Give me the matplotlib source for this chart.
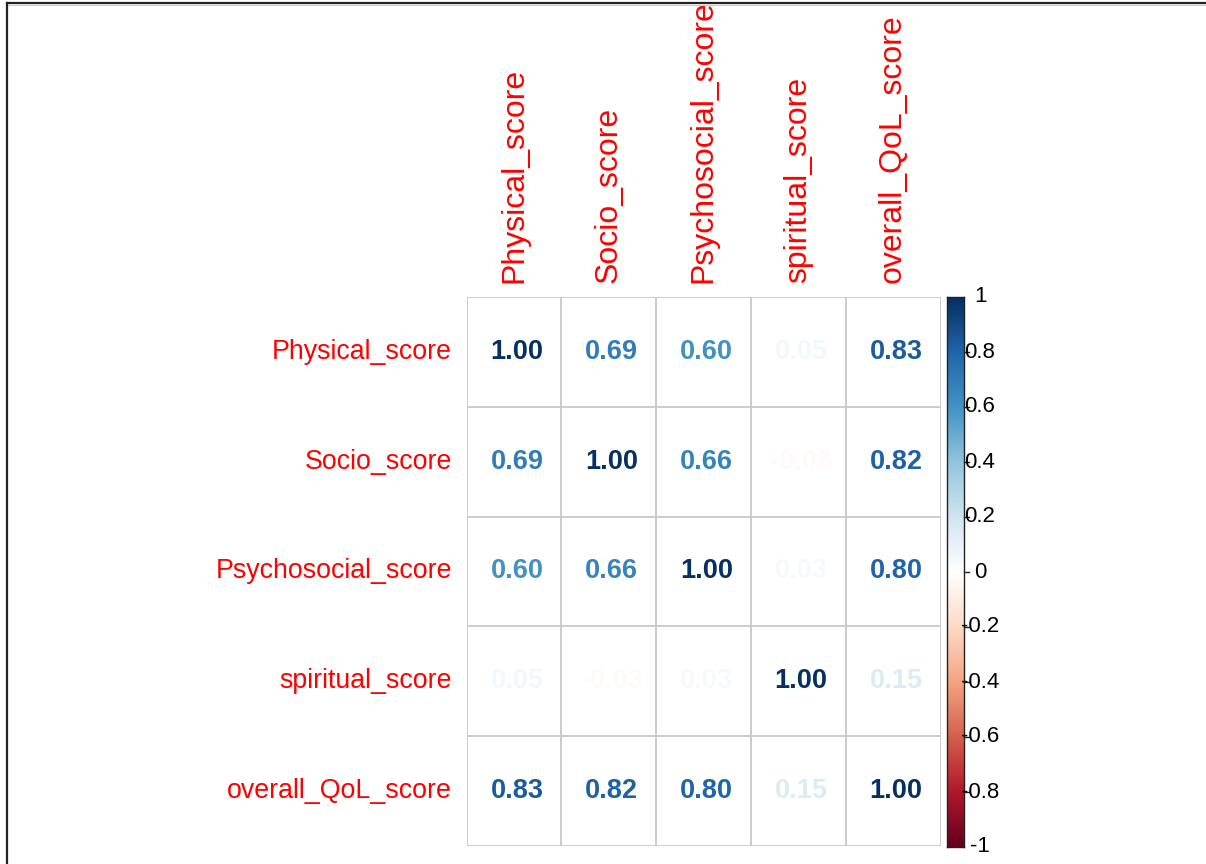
import numpy as np
import matplotlib
matplotlib.use("Agg")
import matplotlib.pyplot as plt
from matplotlib.colors import LinearSegmentedColormap, Normalize
from matplotlib.lines import Line2D

# Correlation matrix of quality-of-life sub-scores
variables = ["Physical_score", "Socio_score", "Psychosocial_score",
             "spiritual_score", "overall_QoL_score"]
row_physical = [1.00, 0.69, 0.60, 0.05, 0.83]
row_socio = [0.69, 1.00, 0.66, -0.03, 0.82]
row_psycho = [0.60, 0.66, 1.00, 0.03, 0.80]
row_spiritual = [0.05, -0.03, 0.03, 1.00, 0.15]
row_overall = [0.83, 0.82, 0.80, 0.15, 1.00]
cbar_ticks = [1, 0.8, 0.6, 0.4, 0.2, 0, -0.2, -0.4, -0.6, -0.8, -1]
cbar_labels = ["1", "0.8", "0.6", "0.4", "0.2", "0", "-0.2", "-0.4", "-0.6", "-0.8", "-1"]

corr = np.array([row_physical, row_socio, row_psycho, row_spiritual, row_overall])
n = len(variables)

# diverging red-blue palette
rdbu = ["#67001F", "#B2182B", "#D6604D", "#F4A582", "#FDDBC7", "#FFFFFF",
        "#D1E5F0", "#92C5DE", "#4393C3", "#2166AC", "#053061"]
cmap = LinearSegmentedColormap.from_list("rdbu2", rdbu, N=200)
norm = Normalize(-1, 1)

W, H = 1206, 864
fig = plt.figure(figsize=(W / 100, H / 100), dpi=100)
fig.patch.set_facecolor("white")


def frac(x0, y0, x1, y1):
    return [x0 / W, 1 - y1 / H, (x1 - x0) / W, (y1 - y0) / H]


# main grid
ax = fig.add_axes(frac(466.7, 297, 940.5, 846))
ax.set_xlim(0, n)
ax.set_ylim(n, 0)
ax.set_axis_off()
grid_kw = dict(color="#c8c8c8", lw=1.3, zorder=2)
for k in range(n + 1):
    ax.axhline(k, **grid_kw)
    ax.axvline(k, **grid_kw)

for i in range(n):
    for j in range(n):
        v = corr[i, j]
        ax.text(j + 0.53, i + 0.5, f"{v:.2f}", ha="center", va="center",
                color=cmap(norm(v)), fontsize=19.5, fontweight="bold",
                family=["Liberation Sans"], zorder=3)

# variable names
for k, name in enumerate(variables):
    ax.text(-0.155, k + 0.5, name, ha="right", va="center", color="red",
            fontsize=19.3, family=["Liberation Sans"])
    ax.annotate(name, xy=(k + 0.5, 1), xycoords=("data", "axes fraction"),
                xytext=(0, 14), textcoords="offset pixels",
                rotation=90, ha="center", va="bottom", color="red",
                fontsize=23, family=["Liberation Sans"])

# colour legend
cax = fig.add_axes(frac(947, 297, 964, 847))
grad = np.linspace(1, -1, 400).reshape(-1, 1)
cax.imshow(grad, cmap=cmap, norm=norm, aspect="auto", extent=[0, 1, -1, 1])
cax.set_xlim(0, 1)
cax.set_ylim(-1, 1)
cax.set_xticks([])
cax.set_yticks([])
for s in cax.spines.values():
    s.set_color("#222222")
    s.set_linewidth(1.0)
for t, lab in zip(cbar_ticks, cbar_labels):
    if abs(t) < 1:
        cax.plot([1, 1.3], [t, t], color="#222222", lw=1.0, clip_on=False)
    cax.annotate(lab, xy=(1, t), xycoords="data", xytext=(16, 0),
                 textcoords="offset pixels", ha="center", va="center",
                 fontsize=16, color="black", family=["Liberation Sans"],
                 annotation_clip=False)

# outer frame on top and left
fig.add_artist(Line2D([7 / W, 1], [1 - 3 / H, 1 - 3 / H], color="#222222", lw=1.6))
fig.add_artist(Line2D([7 / W, 1], [1 - 5 / H, 1 - 5 / H], color="#cccccc", lw=0.8))
fig.add_artist(Line2D([7 / W, 7 / W], [0, 1 - 3 / H], color="#222222", lw=1.6))

fig.savefig("out.png", dpi=100, facecolor="white")
